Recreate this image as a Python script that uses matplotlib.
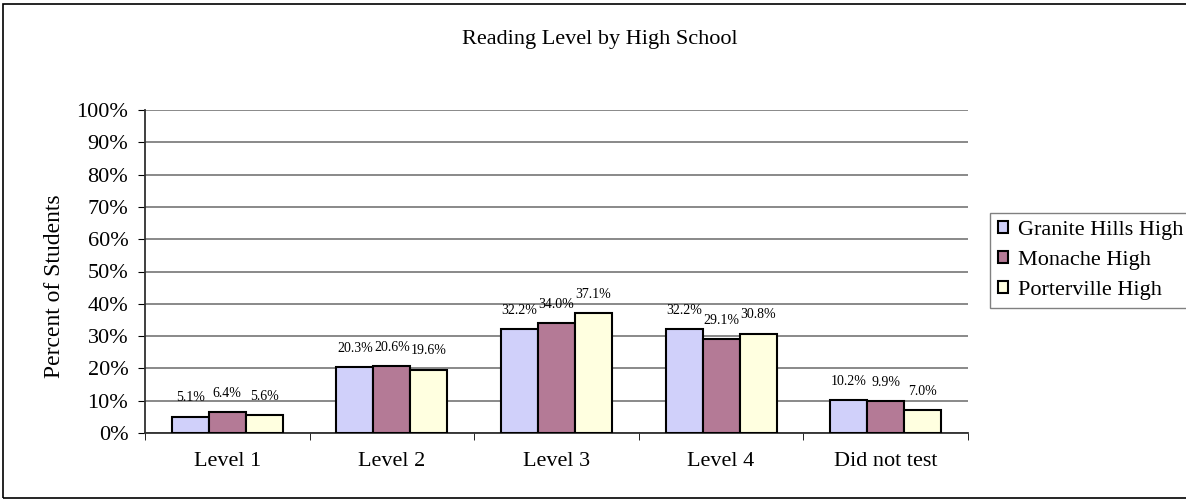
import matplotlib.pyplot as plt
from matplotlib.patches import Rectangle
from matplotlib.transforms import Bbox, TransformedBbox
import numpy as np

plt.rcParams['font.family'] = ['Liberation Serif', 'DejaVu Serif']

# data
categories = ["Level 1", "Level 2", "Level 3", "Level 4", "Did not test"]
schools = ["Granite Hills High", "Monache High", "Porterville High"]
granite = [5.1, 20.3, 32.2, 32.2, 10.2]
monache = [6.4, 20.6, 34.0, 29.1, 9.9]
porterville = [5.6, 19.6, 37.1, 30.8, 7.0]
series = [granite, monache, porterville]
colors = ['#D0D0FA', '#B47A96', '#FFFFE0']

W, H = 1186, 501
fig = plt.figure(figsize=(W / 100, H / 100), dpi=100)
ax = fig.add_axes([145 / W, 68 / H, 823 / W, 323 / H])

# outer frame around the whole chart (right side runs off the picture)
fig.patches.append(Rectangle((3 / W, 3 / H), 1.1, 1 - 7 / H, transform=fig.transFigure,
                             fill=False, edgecolor='black', linewidth=1.2))

x = np.arange(len(categories))
w = 0.225
for i, (vals, col) in enumerate(zip(series, colors)):
    pos = x + (i - 1) * w
    ax.bar(pos, vals, w, color=col, edgecolor='black', linewidth=1.5,
           label=schools[i], zorder=3)
    for p, v in zip(pos, vals):
        ax.annotate(f"{v:.1f}%", (p, v), xytext=(0, 11), textcoords='offset points',
                    ha='center', va='baseline', fontsize=10)

ax.set_xlim(-0.5, 4.5)
ax.set_ylim(0, 100)
ax.set_yticks(np.arange(0, 101, 10))
ax.set_yticklabels([f"{t}%" for t in range(0, 101, 10)], fontsize=16)
ax.yaxis.grid(True, color='#808080', linewidth=1.3, zorder=0)
ax.set_xticks(x)
ax.set_xticklabels(categories, fontsize=16)
ax.tick_params(axis='x', length=0, pad=14)
ax.set_xticks(np.arange(-0.5, 5, 1), minor=True)
ax.tick_params(axis='x', which='minor', length=5, direction='out')
ax.tick_params(axis='y', length=5, direction='out', pad=7)
for s in ['top', 'right']:
    ax.spines[s].set_visible(False)
ax.spines['left'].set_color('#303030')
ax.spines['bottom'].set_color('#303030')
ax.spines['left'].set_linewidth(1.3)
ax.spines['bottom'].set_linewidth(1.3)

# y label, top of it cut off as in the original
yl = fig.text(55 / W, 1 - 286 / H, "Percent of Students", rotation=90,
              ha='center', va='center', fontsize=17)
yl.set_clip_box(TransformedBbox(Bbox.from_extents(0, 0, 1, 1 - 192 / H), fig.transFigure))
yl.set_clip_on(True)

fig.text(600 / W, 1 - 44 / H, "Reading Level by High School", ha='center',
         va='baseline', fontsize=16)

leg = fig.legend(loc='upper left', bbox_to_anchor=(990 / W, 1 - 213 / H),
                 bbox_transform=fig.transFigure, fontsize=16,
                 frameon=True, fancybox=False, edgecolor='#606060',
                 handlelength=0.45, handleheight=0.45, borderpad=0.35,
                 labelspacing=0.5, handletextpad=0.45, borderaxespad=0)
leg.get_frame().set_linewidth(1.0)
for h in leg.legend_handles:
    h.set_linewidth(1.5)

fig.savefig("out.png", dpi=100)
